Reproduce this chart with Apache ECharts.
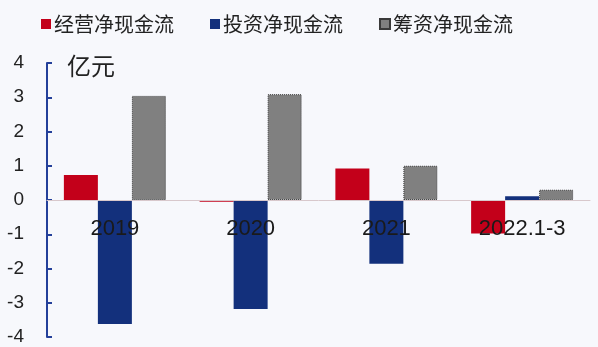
<!DOCTYPE html>
<html>
<head>
<meta charset="utf-8">
<script src="https://cdn.jsdelivr.net/npm/echarts@6/dist/echarts.min.js"></script>
<style>
html,body{margin:0;padding:0;background:#f7f8fc;}
#c{width:598px;height:347px;}
</style>
</head>
<body>
<div id="c"></div>
<script>
var categories = ['2019', '2020', '2021', '2022.1-3'];
var operating = [0.73, -0.05, 0.92, -0.98];
var investing = [-3.62, -3.18, -1.86, 0.11];
var financing = [3.04, 3.09, 1.0, 0.30];
var seriesNames = ['经营净现金流', '投资净现金流', '筹资净现金流'];
var yTicks = { min: -4, max: 4, interval: 1 };
var unitLabel = '亿元';

var chart = echarts.init(document.getElementById('c'), null, { renderer: 'canvas' });
var font = '"Liberation Sans", Arial, "Noto Sans CJK SC", sans-serif';
chart.setOption({
  backgroundColor: '#f7f8fc',
  animation: false,
  textStyle: { fontFamily: font },
  legend: {
    top: 9,
    left: 36,
    itemWidth: 10,
    itemHeight: 10,
    itemGap: 36,
    icon: 'rect',
    textStyle: { fontSize: 20, color: '#222', fontFamily: '"Noto Sans CJK SC", sans-serif', padding: [0, 0, 0, -2] },
    data: seriesNames
  },
  grid: { left: 47, right: 8, top: 63, bottom: 10, containLabel: false, outerBoundsMode: 'none' },
  graphic: [{
    type: 'text',
    left: 67,
    top: 54,
    style: { text: unitLabel, fontSize: 24, fill: '#222', fontFamily: '"Noto Sans CJK SC", sans-serif' }
  }],
  xAxis: {
    type: 'category',
    data: categories,
    position: 'bottom',
    offset: -137,
    z: 10,
    axisLine: { onZero: false, lineStyle: { color: '#d8c8cc', width: 1 } },
    axisTick: { show: false },
    axisLabel: { fontSize: 22, color: '#1a1a1a', margin: 18, fontFamily: font }
  },
  yAxis: {
    type: 'value',
    min: yTicks.min,
    max: yTicks.max,
    interval: yTicks.interval,
    axisLine: { show: true, lineStyle: { color: '#24409a', width: 2 } },
    axisTick: { show: true, inside: true, length: 5, lineStyle: { color: '#24409a', width: 2 } },
    splitLine: { show: false },
    axisLabel: { fontSize: 19, color: '#222', margin: 23, fontFamily: font }
  },
  series: [
    { name: seriesNames[0], type: 'bar', data: operating, barWidth: 34, barGap: '0%',
      itemStyle: { color: '#c3001a' } },
    { name: seriesNames[1], type: 'bar', data: investing, barWidth: 34, barGap: '0%',
      itemStyle: { color: '#13307c' } },
    { name: seriesNames[2], type: 'bar', data: financing, barWidth: 34, barGap: '0%',
      itemStyle: { color: '#808080', borderColor: '#3a3a3a', borderWidth: 1, borderType: 'dotted' } }
  ]
});
</script>
</body>
</html>
